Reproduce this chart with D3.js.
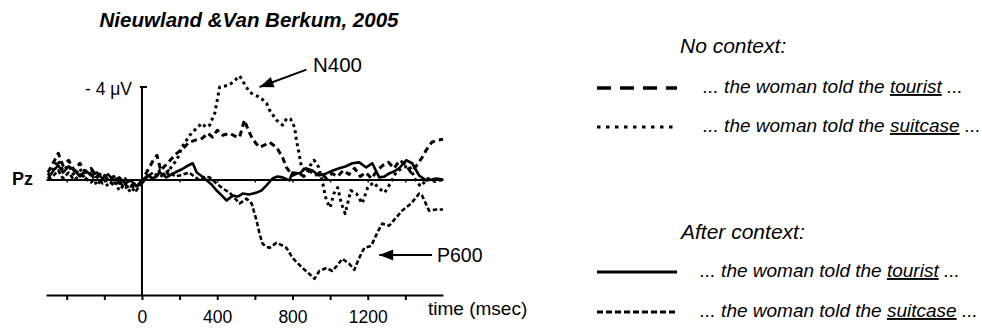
<!DOCTYPE html>
<html>
<head>
<meta charset="utf-8">
<script src="https://cdn.jsdelivr.net/npm/d3@7"></script>
<style>
  body { margin: 0; background: #fff; }
  svg { display: block; font-family: "Liberation Sans", Arial, sans-serif; }
</style>
</head>
<body>
<div id="chart"></div>
<script>
// ERP waveforms at Pz, [time (ms), amplitude (uV)], negative up
var noContextTourist = [
  [-500,-0.30],[-470,-0.74],[-445,-1.13],[-420,-0.61],[-390,-0.83],[-360,-0.39],[-330,-0.70],[-300,-0.30],
  [-270,-0.48],[-240,-0.13],[-210,-0.30],[-180,0.04],[-150,-0.13],[-120,0.17],[-90,-0.04],[-60,0.30],
  [-30,0.13],[0,0.04],[30,-0.39],[60,-0.83],[80,-1.04],[100,-0.39],[125,-0.61],[150,-0.83],[185,-1.13],
  [220,-1.35],[250,-1.61],[285,-1.70],[320,-1.78],[350,-2.00],[375,-1.83],[400,-2.13],[430,-1.91],
  [466,-2.00],[495,-1.87],[519,-1.83],[545,-2.57],[565,-2.13],[583,-1.83],[605,-1.57],[625,-1.39],
  [650,-1.48],[678,-1.61],[715,-1.39],[747,-0.96],[768,-0.52],[800,-0.17],[830,-0.30],[860,-0.13],
  [890,-0.39],[920,-0.17],[950,-0.30],[980,-0.04],[1010,-0.26],[1040,-0.13],[1070,-0.39],[1100,-0.22],
  [1130,-0.48],[1160,-0.13],[1190,-0.30],[1220,-0.04],[1250,-0.39],[1280,-0.61],[1310,-0.74],[1340,-0.48],
  [1370,-0.83],[1400,-0.65],[1430,-0.30],[1460,-0.61],[1490,-0.96],[1510,-1.26],[1540,-1.61],[1570,-1.70],[1600,-1.74]
];
var noContextSuitcase = [
  [-500,-0.17],[-470,-0.48],[-445,-0.83],[-420,-0.39],[-390,-0.61],[-360,-0.17],[-330,-0.48],[-300,0.04],
  [-270,-0.30],[-240,0.26],[-210,-0.04],[-180,0.30],[-150,0.04],[-120,0.48],[-90,0.17],[-60,0.57],
  [-30,0.30],[0,0.17],[30,-0.17],[60,0.04],[95,-0.39],[130,-0.13],[160,-0.61],[185,-0.83],[212,-1.39],
  [254,-1.91],[290,-2.22],[318,-2.43],[340,-2.26],[360,-2.35],[387,-2.87],[413,-4.00],[440,-4.04],
  [466,-4.09],[495,-4.30],[519,-4.48],[545,-4.13],[572,-3.78],[600,-3.65],[625,-3.57],[662,-3.30],
  [678,-3.00],[715,-2.57],[747,-2.35],[770,-2.65],[790,-2.61],[811,-2.26],[821,-1.70],[835,-1.13],
  [848,-0.52],[874,-0.30],[895,-0.61],[915,-0.83],[940,-0.52],[960,0.13],[980,0.91],[1000,1.22],
  [1020,0.61],[1040,0.35],[1060,1.04],[1080,1.48],[1110,0.48],[1140,0.61],[1170,1.04],[1200,0.35],
  [1230,0.13],[1260,0.39],[1290,0.57],[1320,0.17],[1350,-0.30],[1380,-0.48],[1420,-0.61],[1450,-0.04],
  [1480,0.30],[1520,-0.04],[1560,0.09],[1600,0.00]
];
var afterContextTourist = [
  [-500,-0.04],[-470,-0.39],[-445,-0.61],[-420,-0.30],[-390,-0.57],[-360,-0.39],[-330,-0.13],[-300,-0.39],
  [-270,-0.17],[-240,-0.30],[-210,-0.04],[-180,-0.22],[-150,0.04],[-120,-0.09],[-90,0.17],[-60,0.04],
  [-30,0.30],[0,0.04],[30,-0.17],[60,-0.04],[95,-0.30],[130,-0.09],[175,-0.30],[210,-0.43],[238,-0.57],
  [270,-0.70],[291,-0.30],[320,-0.13],[344,0.04],[370,0.22],[397,0.48],[425,0.70],[450,0.91],[482,0.70],
  [510,0.74],[535,0.61],[570,0.65],[609,0.57],[635,0.48],[662,0.26],[694,-0.04],[720,-0.13],[747,-0.09],
  [784,0.04],[800,-0.30],[837,-0.26],[870,-0.48],[906,-0.39],[940,-0.17],[980,-0.26],[1015,-0.39],
  [1049,-0.48],[1085,-0.57],[1118,-0.70],[1155,-0.74],[1192,-0.52],[1224,-0.70],[1261,-0.09],[1290,-0.13],
  [1314,-0.26],[1340,-0.35],[1367,-0.48],[1404,-0.83],[1436,-0.70],[1473,-0.17],[1510,0.04],[1540,0.00],
  [1563,-0.04],[1600,0.00]
];
var afterContextSuitcase = [
  [-500,0.04],[-470,-0.17],[-445,-0.39],[-420,-0.04],[-390,-0.30],[-360,0.04],[-330,-0.22],[-300,-0.04],
  [-270,0.13],[-240,-0.13],[-210,0.17],[-180,0.00],[-150,0.26],[-120,0.09],[-90,0.39],[-60,0.22],
  [-30,0.48],[0,0.13],[30,-0.13],[60,-0.30],[95,-0.09],[140,-0.39],[175,-0.13],[201,-0.17],[250,-0.30],
  [307,0.04],[335,-0.13],[360,-0.09],[395,0.17],[429,0.39],[466,0.57],[495,0.83],[519,1.04],[556,0.83],
  [583,1.04],[609,1.78],[625,2.35],[641,2.78],[660,2.91],[678,2.96],[715,2.74],[740,2.83],[768,2.96],
  [800,3.39],[853,3.83],[890,4.09],[917,4.30],[943,3.96],[980,3.83],[1012,3.96],[1040,3.70],[1065,3.43],
  [1102,3.65],[1129,3.91],[1155,3.39],[1182,2.96],[1219,2.87],[1251,2.30],[1277,1.91],[1314,2.00],
  [1351,1.65],[1383,1.35],[1431,1.04],[1473,0.61],[1489,0.70],[1526,1.35],[1563,1.30],[1600,1.30]
];

var xTicks = [-400,-200,0,200,400,600,800,1000,1200,1400]
var xLabels = [0,400,800,1200]

var w = 982, h = 329

var svg = d3.select("#chart").append("svg").attr("width", w).attr("height", h)

var xScale = d3.scaleLinear().domain([-510, 1600]).range([46, 443])
var yScale = d3.scaleLinear().domain([-4, 5]).range([87, 295])

// title
svg.append("text")
  .text("Nieuwland &Van Berkum, 2005")
  .attr("x", 249).attr("y", 27)
  .attr("text-anchor", "middle")
  .attr("font-size", "20.5px").attr("font-weight", "bold").attr("font-style", "italic")

// x axis at the bottom
var xAxis = d3.axisBottom(xScale)
  .tickValues(xTicks)
  .tickSizeInner(5).tickSizeOuter(0)
  .tickFormat(function(d) { return xLabels.indexOf(d) >= 0 ? d : "" })

var gx = svg.append("g").attr("transform", "translate(0," + yScale(5) + ")").call(xAxis)
gx.select(".domain").attr("stroke", "#000").attr("stroke-width", 2)
gx.selectAll(".tick line").attr("stroke-width", 2)
gx.selectAll(".tick text")
  .attr("y", 16)
  .attr("font-family", "Liberation Sans, Arial, sans-serif")
  .attr("font-size", "17.5px").attr("fill", "#000")

svg.append("text").text("time (msec)")
  .attr("x", 428).attr("y", 315)
  .attr("font-size", "19px")

// zero baseline with small ticks
var baseAxis = d3.axisBottom(xScale).tickValues(xTicks).tickSizeInner(3).tickSizeOuter(0).tickFormat("")
var gb = svg.append("g").attr("transform", "translate(0," + yScale(0) + ")").call(baseAxis)
gb.select(".domain").attr("stroke", "#000").attr("stroke-width", 2)
gb.selectAll(".tick line").attr("stroke-width", 1.5)

svg.append("text").text("Pz")
  .attr("x", 12).attr("y", 185)
  .attr("font-size", "18px").attr("font-weight", "bold")

// vertical axis at t = 0
svg.append("line")
  .attr("x1", xScale(0)).attr("x2", xScale(0))
  .attr("y1", yScale(-4)).attr("y2", yScale(5))
  .attr("stroke", "#000").attr("stroke-width", 2)
svg.append("line")
  .attr("x1", xScale(0) - 2).attr("x2", xScale(0) + 5)
  .attr("y1", yScale(-4)).attr("y2", yScale(-4))
  .attr("stroke", "#000").attr("stroke-width", 2)
svg.append("text").text("- 4 \u03bcV")
  .attr("x", 132).attr("y", 95)
  .attr("text-anchor", "end")
  .attr("font-size", "17.5px")

var line = d3.line()
  .x(function(d) { return xScale(d[0]) })
  .y(function(d) { return yScale(d[1]) })
  .curve(d3.curveLinear)

var series = [
  {data: noContextTourist, width: 3, dash: "6,4", legendDash: "14,9", legendWidth: 3.5},
  {data: noContextSuitcase, width: 3, dash: "3,3.5", legendDash: "3.5,5.5", legendWidth: 3},
  {data: afterContextTourist, width: 2.6, dash: null, legendDash: null, legendWidth: 3},
  {data: afterContextSuitcase, width: 2.6, dash: "4.5,2.5", legendDash: "6,3", legendWidth: 3}
]

series.forEach(function(s) {
  svg.append("path")
    .datum(s.data)
    .attr("d", line)
    .attr("fill", "none")
    .attr("stroke", "#000")
    .attr("stroke-width", s.width)
    .attr("stroke-linejoin", "round")
    .attr("stroke-dasharray", s.dash)
})

// arrows
function arrow(x1, y1, x2, y2) {
  svg.append("line")
    .attr("x1", x1).attr("y1", y1).attr("x2", x2).attr("y2", y2)
    .attr("stroke", "#000").attr("stroke-width", 2)
  var a = Math.atan2(y2 - y1, x2 - x1)
  var len = 14, half = 5.5
  var bx = x2 - len * Math.cos(a), by = y2 - len * Math.sin(a)
  var pts = [
    [x2, y2],
    [bx + half * Math.sin(a), by - half * Math.cos(a)],
    [bx - half * Math.sin(a), by + half * Math.cos(a)]
  ]
  svg.append("path").attr("d", "M" + pts.join("L") + "Z").attr("fill", "#000")
}

arrow(xScale(874), yScale(-4.75), xScale(625), yScale(-4.0))
svg.append("text").text("N400")
  .attr("x", 313).attr("y", 72)
  .attr("font-size", "20.5px")

arrow(xScale(1542), yScale(3.27), xScale(1261), yScale(3.27))
svg.append("text").text("P600")
  .attr("x", 437).attr("y", 262)
  .attr("font-size", "19.5px")

// legend
var legendGroups = ["No context:", "After context:"]
var legendItems = [
  {label: "tourist", row: 88},
  {label: "suitcase", row: 127},
  {label: "tourist", row: 272},
  {label: "suitcase", row: 312}
]

svg.append("text").text(legendGroups[0])
  .attr("x", 680).attr("y", 53)
  .attr("font-size", "21px").attr("font-style", "italic")
svg.append("text").text(legendGroups[1])
  .attr("x", 681).attr("y", 239)
  .attr("font-size", "21px").attr("font-style", "italic")

legendItems.forEach(function(it, i) {
  var s = series[i]
  svg.append("line")
    .attr("x1", 597).attr("x2", 677)
    .attr("y1", it.row).attr("y2", it.row)
    .attr("stroke", "#000")
    .attr("stroke-width", s.legendWidth)
    .attr("stroke-dasharray", s.legendDash)
  var t = svg.append("text")
    .attr("x", i < 2 ? 703 : 700).attr("y", it.row + 5)
    .attr("font-size", "19px").attr("font-style", "italic")
  t.append("tspan").text("... the woman told the ")
  t.append("tspan").text(it.label).attr("text-decoration", "underline")
  t.append("tspan").text(" ...")
})
</script>
</body>
</html>
